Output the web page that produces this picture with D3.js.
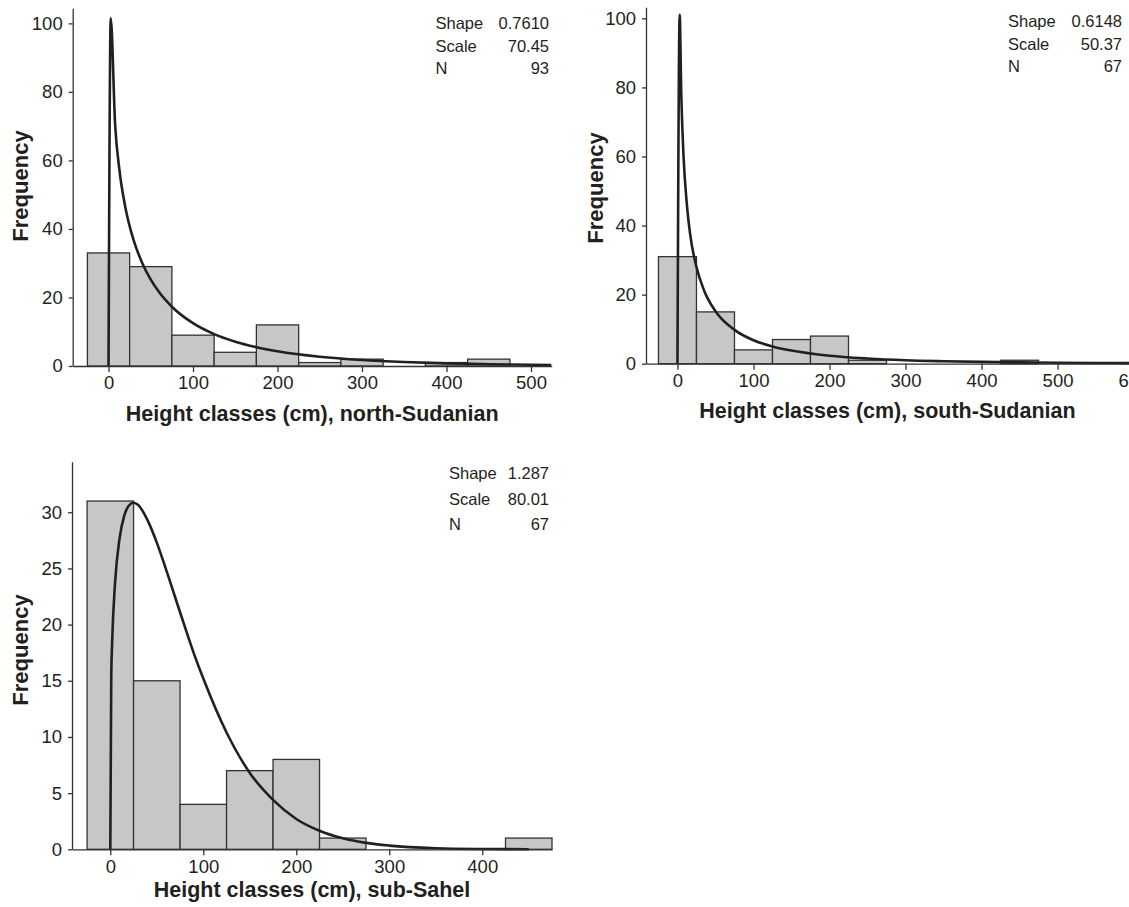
<!DOCTYPE html>
<html>
  <head>
    <meta http-equiv="Content-Type" content="text/html; charset=UTF-8">
    <style type="text/css">
      body { margin: 0; background: #fff; }
      text { font-family: 'Liberation Sans', Arial, sans-serif; fill: #231f20; }
      .axis path, .axis line { stroke: #333; stroke-width: 1.3px; }
      .axis text { font-size: 18.5px; fill: #231f20; font-family: 'Liberation Sans', Arial, sans-serif; }
    </style>
  </head>
  <body>
    <div id="canvas"></div>
    <script type="text/javascript" src="https://d3js.org/d3.v7.min.js"></script>
    <script type="text/javascript">
    // histogram classes (lower bound of each 50 cm class)
    var binStarts = [-25, 25, 75, 125, 175, 225, 275, 325, 375, 425];
    var binWidth = 50;

    var countsNorth = [33, 29, 9, 4, 12, 1, 2, 0, 1, 2];
    var countsSouth = [31, 15, 4, 7, 8, 1, 0, 0, 0, 1];
    var countsSahel = [31, 15, 4, 7, 8, 1, 0, 0, 0, 1];

    // fitted curves [height, frequency]
    var curveNorth = [[0,0],[2.6,101.5],[7.8,70.5],[13,57],[20,46.2],[30,36.5],[40,30],[50,25.2],[60,21.5],
      [75,17.3],[100,12.5],[125,9.3],[150,7.1],[175,5.5],[200,4.3],[250,2.7],[300,1.75],[350,1.16],
      [400,0.78],[450,0.53],[500,0.37],[524,0.31]];
    var curveSouth = [[0,0],[2.9,101],[5,78],[8,60],[12,47],[17,37],[25,28],[35,21.2],[50,15.2],[75,9.8],
      [100,6.8],[125,5.0],[150,3.8],[200,2.3],[250,1.5],[300,1.0],[350,0.72],[400,0.52],[450,0.38],
      [500,0.28],[550,0.21],[594,0.17]];
    var curveSahel = [[0,0],[1,15.3],[2,18.5],[5,23.6],[10,27.7],[15,29.7],[20,30.6],[25,30.85],[30,30.65],
      [40,29.3],[50,27.3],[60,24.9],[75,21.1],[90,17.4],[100,15.2],[125,10.4],[150,6.8],[175,4.4],
      [200,2.7],[225,1.65],[250,0.98],[275,0.57],[300,0.33],[350,0.1],[400,0.03],[450,0.01]];

    var statLabels = ['Shape', 'Scale', 'N'];
    var statsNorth = ['0.7610', '70.45', '93'];
    var statsSouth = ['0.6148', '50.37', '67'];
    var statsSahel = ['1.287', '80.01', '67'];

    var titles = ['Height classes (cm), north-Sudanian', 'Height classes (cm), south-Sudanian',
                  'Height classes (cm), sub-Sahel'];
    var xTicksNorth = [0, 100, 200, 300, 400, 500];
    var xTicksSouth = [0, 100, 200, 300, 400, 500, 600];
    var xTicksSahel = [0, 100, 200, 300, 400];
    var yTicksNorth = [0, 20, 40, 60, 80, 100];
    var yTicksSahel = [0, 5, 10, 15, 20, 25, 30];

    var svg = d3.select('#canvas').append('svg')
                .attr('width', 1129)
                .attr('height', 907);

    var drawPanel = function (p) {
      var x = d3.scaleLinear().domain(p.xDomain).range(p.xRange);
      var y = d3.scaleLinear().domain(p.yDomain).range(p.yRange);
      var g = svg.append('g');

      var bins = binStarts.map(function (b, i) { return {x0: b, n: p.counts[i]}; })
                          .filter(function (d) { return d.n > 0; });
      g.selectAll('rect.bar')
        .data(bins)
        .enter().append('rect')
        .attr('class', 'bar')
        .attr('x', function (d) { return x(d.x0); })
        .attr('width', function (d) { return x(d.x0 + binWidth) - x(d.x0); })
        .attr('y', function (d) { return y(d.n); })
        .attr('height', function (d) { return y(0) - y(d.n); })
        .style('fill', '#c6c7c9')
        .style('stroke', '#333')
        .style('stroke-width', 1.3);

      var line = d3.line()
                   .x(function (d) { return x(d[0]); })
                   .y(function (d) { return y(d[1]); })
                   .curve(d3.curveMonotoneX);
      g.append('path')
        .datum(p.curve)
        .attr('d', line)
        .style('fill', 'none')
        .style('stroke', '#231f20')
        .style('stroke-width', 2.6);

      g.append('g')
        .attr('class', 'axis')
        .attr('transform', 'translate(0,' + p.yRange[0] + ')')
        .call(d3.axisBottom(x).tickValues(p.xTicks).tickSize(6).tickPadding(p.xPad).tickSizeOuter(0));
      g.append('g')
        .attr('class', 'axis')
        .attr('transform', 'translate(' + p.xRange[0] + ',0)')
        .call(d3.axisLeft(y).tickValues(p.yTicks).tickSize(4).tickPadding(6).tickSizeOuter(0));

      g.append('text')
        .attr('x', d3.mean(p.xRange))
        .attr('y', p.titleY)
        .attr('text-anchor', 'middle')
        .style('font-size', '21.5px')
        .style('font-weight', 'bold')
        .text(p.title);
      g.append('text')
        .attr('transform', 'translate(' + p.freqX + ',' + p.freqY + ') rotate(-90)')
        .attr('text-anchor', 'middle')
        .style('font-size', '22px')
        .style('font-weight', 'bold')
        .text('Frequency');

      statLabels.forEach(function (s, i) {
        g.append('text')
          .attr('x', p.statX)
          .attr('y', p.statY + i * p.statDy)
          .style('font-size', '16.5px')
          .text(s);
        g.append('text')
          .attr('x', p.statX2)
          .attr('y', p.statY + i * p.statDy)
          .attr('text-anchor', 'end')
          .style('font-size', '16.5px')
          .text(p.stats[i]);
      });
    };

    drawPanel({counts: countsNorth, curve: curveNorth, stats: statsNorth, title: titles[0],
      xTicks: xTicksNorth, yTicks: yTicksNorth,
      xDomain: [-42.4, 524.5], xRange: [72.7, 551.7], yDomain: [0, 104.4], yRange: [366, 8.3],
      xPad: 4, titleY: 421, freqX: 28, freqY: 186,
      statX: 435.5, statX2: 549, statY: 29, statDy: 22.7});
    drawPanel({counts: countsSouth, curve: curveSouth, stats: statsSouth, title: titles[1],
      xTicks: xTicksSouth, yTicks: yTicksNorth,
      xDomain: [-41.4, 594], xRange: [646, 1129], yDomain: [0, 103.2], yRange: [363.7, 7.3],
      xPad: 4, titleY: 418, freqX: 603, freqY: 188,
      statX: 1008, statX2: 1122, statY: 27, statDy: 22.7});
    drawPanel({counts: countsSahel, curve: curveSahel, stats: statsSahel, title: titles[2],
      xTicks: xTicksSahel, yTicks: yTicksSahel,
      xDomain: [-41.2, 475], xRange: [72, 552], yDomain: [0, 34.5], yRange: [849.3, 461.7],
      xPad: 5, titleY: 897, freqX: 28, freqY: 650,
      statX: 449, statX2: 549, statY: 479, statDy: 25.5});
    </script>
  </body>
</html>
